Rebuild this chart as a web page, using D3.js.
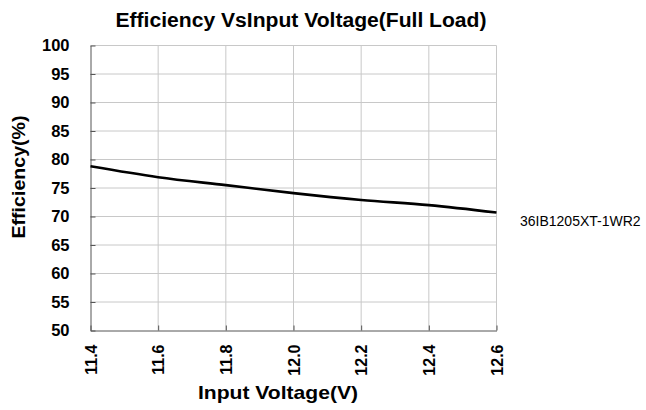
<!DOCTYPE html>
<html><head><meta charset="utf-8">
<script src="https://cdn.jsdelivr.net/npm/d3@7"></script>
<style>body{margin:0;background:#fff}svg{display:block}text{font-family:"Liberation Sans",Arial,sans-serif}</style>
</head><body>
<script>
const voltages = [11.4, 11.6, 11.8, 12.0, 12.2, 12.4, 12.6];
const efficiency = [78.8, 76.9, 75.5, 74.1, 72.9, 72.0, 70.7];
const xTicks = [11.4, 11.6, 11.8, 12.0, 12.2, 12.4, 12.6];
const yTicks = [50, 55, 60, 65, 70, 75, 80, 85, 90, 95, 100];
const seriesName = "36IB1205XT-1WR2";

const W = 646, H = 410;
const m = {left: 90.5, right: 496.5, top: 45.5, bottom: 330.5};
const svg = d3.select("body").append("svg").attr("width", W).attr("height", H);
const x = d3.scaleLinear().domain([11.4, 12.6]).range([m.left, m.right]);
const y = d3.scaleLinear().domain([50, 100]).range([m.bottom, m.top]);

// grid
svg.append("g").selectAll("line").data(xTicks.slice(1)).join("line")
  .attr("x1", d => x(d)).attr("x2", d => x(d)).attr("y1", m.top).attr("y2", m.bottom)
  .attr("stroke", "#c8c8c8").attr("stroke-width", 1);
svg.append("g").selectAll("line").data(yTicks.slice(1)).join("line")
  .attr("x1", m.left).attr("x2", m.right).attr("y1", d => y(d)).attr("y2", d => y(d))
  .attr("stroke", "#c8c8c8").attr("stroke-width", 1);

// axes
const yAxis = svg.append("g").attr("transform", `translate(${m.left},0)`)
  .call(d3.axisLeft(y).tickValues(yTicks).tickSizeInner(-5).tickSizeOuter(0).tickPadding(21));
yAxis.select(".domain").attr("stroke", "#555");
yAxis.selectAll(".tick line").attr("stroke", "#555");
yAxis.selectAll("text").attr("font-size", 16.5).attr("font-weight", "bold").attr("fill", "#000")
  .attr("font-family", "Liberation Sans, Arial, sans-serif");

const xAxis = svg.append("g").attr("transform", `translate(0,${m.bottom})`)
  .call(d3.axisBottom(x).tickValues(xTicks).tickFormat(d3.format(".1f")).tickSizeInner(-5).tickSizeOuter(0));
xAxis.select(".domain").attr("stroke", "#555");
xAxis.selectAll(".tick line").attr("stroke", "#555");
xAxis.selectAll("text").attr("font-size", 16).attr("font-weight", "bold").attr("fill", "#000")
  .attr("font-family", "Liberation Sans, Arial, sans-serif")
  .attr("transform", "rotate(-90)").attr("text-anchor", "end")
  .attr("x", -14).attr("y", 0).attr("dy", "0.35em");

// line
svg.append("path").datum(voltages.map((v, i) => [v, efficiency[i]]))
  .attr("fill", "none").attr("stroke", "#000").attr("stroke-width", 2.6)
  .attr("d", d3.line().x(d => x(d[0])).y(d => y(d[1])).curve(d3.curveMonotoneX));

// titles
svg.append("text").attr("x", 301).attr("y", 27).attr("text-anchor", "middle")
  .attr("font-size", 20).attr("font-weight", "bold")
  .attr("textLength", 371).attr("lengthAdjust", "spacingAndGlyphs")
  .text("Efficiency VsInput Voltage(Full Load)");
svg.append("text").attr("x", 278).attr("y", 399).attr("text-anchor", "middle")
  .attr("font-size", 19).attr("font-weight", "bold")
  .attr("textLength", 160).attr("lengthAdjust", "spacingAndGlyphs")
  .text("Input Voltage(V)");
svg.append("text").attr("transform", "translate(25,177) rotate(-90)").attr("text-anchor", "middle")
  .attr("font-size", 18).attr("font-weight", "bold")
  .attr("textLength", 123).attr("lengthAdjust", "spacingAndGlyphs")
  .text("Efficiency(%)");
svg.append("text").attr("x", 520).attr("y", 226)
  .attr("font-size", 14).text(seriesName);
</script>
</body></html>
